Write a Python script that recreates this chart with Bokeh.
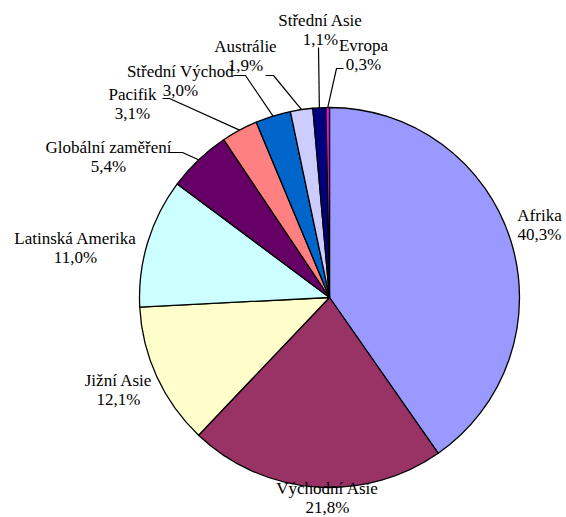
import math
from bokeh.plotting import figure
from bokeh.models import ColumnDataSource, Range1d
from bokeh.core.properties import value
from bokeh.embed import file_html
from bokeh.resources import INLINE

# ---- data ----
categories = ["Afrika", "Východní Asie", "Jižní Asie", "Latinská Amerika",
              "Globální zaměření", "Pacifik", "Střední Východ", "Austrálie",
              "Střední Asie", "Evropa"]
shares = [40.3, 21.8, 12.1, 11.0, 5.4, 3.1, 3.0, 1.9, 1.1, 0.3]
colors = ["#9999FF", "#993366", "#FFFFCC", "#CCFFFF", "#660066",
          "#FF8080", "#0066CC", "#CCCCFF", "#000080", "#FF00FF"]

# ---- layout (page pixel coords, converted below) ----
W, H = 566, 517
def px(x): return x
def py(y): return H - y

CX, CY, R = px(329), py(297), 190

label_pos = {
    "Afrika": (539, 224),
    "Východní Asie": (327, 497),
    "Jižní Asie": (118, 389),
    "Latinská Amerika": (75, 247),
    "Globální zaměření": (108, 156),
    "Pacifik": (132, 103),
    "Střední Východ": (180, 80),
    "Austrálie": (245, 55),
    "Střední Asie": (320, 29),
    "Evropa": (363, 54),
}
leaders = {
    "Globální zaměření": [(168, 152), (182, 152)],
    "Pacifik": [(162, 98), (169, 98)],
    "Střední Východ": [(233, 75), (245, 75)],
    "Austrálie": [(265, 75), (273, 75)],
    "Střední Asie": [(318, 47), (318, 47)],
    "Evropa": [(343, 68), (336, 68)],
}

total = sum(shares)
starts, ends, mids = [], [], []
cum = 0.0
for s in shares:
    a0 = math.pi / 2 - 2 * math.pi * cum / total
    cum += s
    a1 = math.pi / 2 - 2 * math.pi * cum / total
    starts.append(a0)
    ends.append(a1)
    mids.append((a0 + a1) / 2)

p = figure(width=W, height=H, x_range=Range1d(0, W), y_range=Range1d(0, H),
           x_axis_type=None, y_axis_type=None, min_border=0,
           toolbar_location=None, output_backend="svg")
p.grid.visible = False
p.outline_line_color = None
p.background_fill_color = "white"

src = ColumnDataSource(dict(start=starts, end=ends, color=colors, cat=categories))
p.wedge(x=CX, y=CY, radius=R, start_angle="start", end_angle="end",
        direction="clock", fill_color="color", line_color="black",
        line_width=1.3, source=src)

for i, c in enumerate(categories):
    if c in leaders:
        ex = CX + R * math.cos(mids[i])
        ey = CY + R * math.sin(mids[i])
        pts = leaders[c]
        xs = [px(x) for x, _ in pts] + [ex]
        ys = [py(y) for _, y in pts] + [ey]
        p.line(xs, ys, line_color="black", line_width=1.2)

names_x, names_y, pct = [], [], []
for c, s in zip(categories, shares):
    x, y = label_pos[c]
    names_x.append(px(x))
    names_y.append(py(y))
    pct.append(f"{s:.1f}".replace(".", ",") + "%")

tsrc = ColumnDataSource(dict(x=names_x, y=names_y, name=categories, pct=pct))
common = dict(text_align="center", text_baseline="middle",
              text_font=value("Liberation Serif"),
              text_font_size="17px", text_color="black", source=tsrc)
p.text(x="x", y="y", text="name", y_offset=-9, **common)
p.text(x="x", y="y", text="pct", y_offset=9.5, **common)

open("out.html", "w").write(file_html(p, INLINE))
